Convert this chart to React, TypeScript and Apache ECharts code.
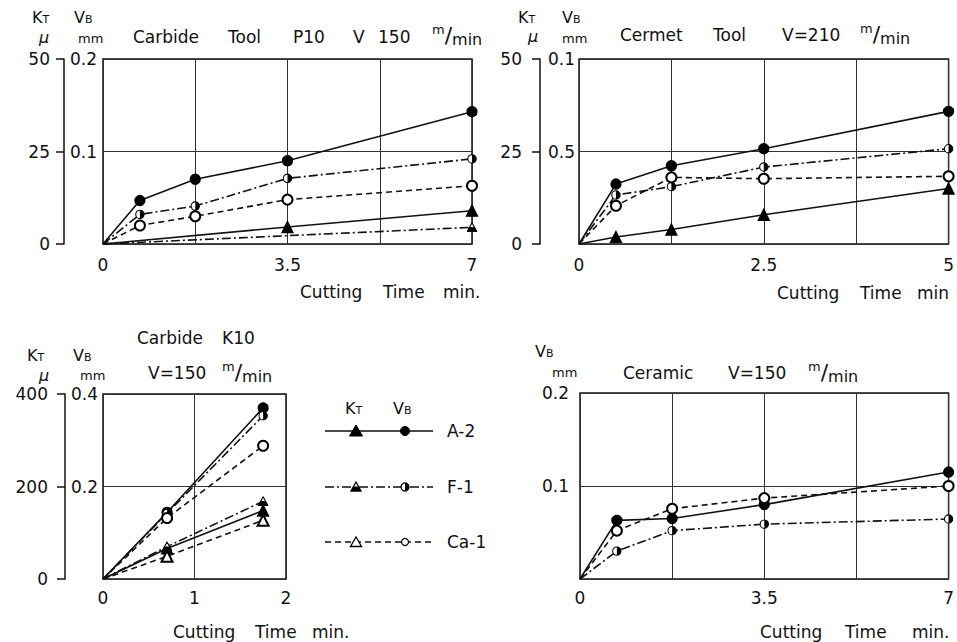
import React, { useEffect, useRef } from 'react';
import * as echarts from 'echarts';

const FONT = "'DejaVu Sans', sans-serif";
const INK = '#111';

// ---- Panel 1: Carbide Tool P10, V 150 m/min ----
const p1Time = [0, 0.7, 1.75, 3.5, 7];
const p1VbA2 = [0, 0.047, 0.07, 0.09, 0.143];
const p1VbF1 = [0, 0.032, 0.041, 0.071, 0.092];
const p1VbCa1 = [0, 0.02, 0.03, 0.048, 0.063];
const p1KtA2Time = [0, 3.5, 7];
const p1KtA2 = [0, 4.6, 9.0];
const p1KtF1Time = [0, 7];
const p1KtF1 = [0, 4.5];

// ---- Panel 2: Cermet Tool, V=210 m/min ----
const p2Time = [0, 0.5, 1.25, 2.5, 5];
const p2VbA2 = [0, 0.0324, 0.0423, 0.0515, 0.0717];
const p2VbF1 = [0, 0.0265, 0.031, 0.0416, 0.0515];
const p2VbCa1 = [0, 0.0207, 0.036, 0.0353, 0.0366];
const p2KtA2 = [0, 1.9, 3.9, 7.9, 15.0];

// ---- Panel 3: Carbide K10, V=150 m/min ----
const p3Time = [0, 0.7, 1.75];
const p3VbA2 = [0, 0.144, 0.37];
const p3VbF1 = [0, 0.142, 0.353];
const p3VbCa1 = [0, 0.132, 0.288];
const p3KtA2 = [0, 66, 148];
const p3KtF1 = [0, 70, 168];
const p3KtCa1 = [0, 49, 127];

// ---- Panel 4: Ceramic, V=150 m/min ----
const p4Time = [0, 0.7, 1.75, 3.5, 7];
const p4VbA2 = [0, 0.063, 0.065, 0.08, 0.115];
const p4VbF1 = [0, 0.03, 0.052, 0.059, 0.0645];
const p4VbCa1 = [0, 0.052, 0.0756, 0.087, 0.1];

// ---- Tick labels ----
const p1XTicks = [0, 3.5, 7];
const p2XTicks = [0, 2.5, 5];
const p3XTicks = [0, 1, 2];
const p4XTicks = [0, 3.5, 7];
const p1VbTickValues = [0.1, 0.2];
const p1VbTickLabels = ['0.1', '0.2'];
const p2VbTickValues = [0.05, 0.1];
const p2VbTickLabels = ['0.5', '0.1'];
const p3VbTickValues = [0.2, 0.4];
const p3VbTickLabels = ['0.2', '0.4'];
const p4VbTickValues = [0.1, 0.2];
const p4VbTickLabels = ['0.1', '0.2'];
const p1KtTickValues = [0, 25, 50];
const p1KtTickLabels = ['0', '25', '50'];
const p2KtTickValues = [0, 25, 50];
const p2KtTickLabels = ['0', '25', '50'];
const p3KtTickValues = [0, 200, 400];
const p3KtTickLabels = ['0', '200', '400'];

const samples = ['A-2', 'F-1', 'Ca-1'];

const svgUri = (s: string) => 'image://data:image/svg+xml;charset=utf-8,' + encodeURIComponent(s);
const halfCircleSym = svgUri(
  "<svg xmlns='http://www.w3.org/2000/svg' width='24' height='24' viewBox='0 0 24 24'><circle cx='12' cy='12' r='10' fill='#fff' stroke='#000' stroke-width='2.6'/><path d='M12 2 A10 10 0 0 1 12 22 Z' fill='#000'/></svg>"
);
const halfTriSym = svgUri(
  "<svg xmlns='http://www.w3.org/2000/svg' width='24' height='24' viewBox='0 0 24 24'><polygon points='12,2 22.5,21 1.5,21' fill='#fff' stroke='#000' stroke-width='2.4' stroke-linejoin='round'/><polygon points='6.75,11.5 17.25,11.5 22.5,21 1.5,21' fill='#000'/></svg>"
);

const LINE: Record<string, any> = {
  'A-2': 'solid',
  'F-1': [9, 3, 2, 3],
  'Ca-1': [6, 4],
};
const SYM: Record<string, { vb: string; kt: string }> = {
  'A-2': { vb: 'circle', kt: 'triangle' },
  'F-1': { vb: halfCircleSym, kt: halfTriSym },
  'Ca-1': { vb: 'emptyCircle', kt: 'emptyTriangle' },
};

const labelFrom = (vals: number[], labels: string[]) => (v: number) => {
  const i = vals.findIndex((t) => Math.abs(t - v) < 1e-9);
  return i >= 0 ? labels[i] : '';
};

const xAxisDef = (gridIndex: number, max: number, interval: number, ticks: number[], margin: number) => ({
  type: 'value',
  gridIndex,
  min: 0,
  max,
  interval,
  axisLine: { show: false },
  axisTick: { show: false },
  splitLine: { show: true, lineStyle: { color: '#333', width: 1 } },
  axisLabel: {
    margin,
    color: INK,
    fontSize: 17,
    fontFamily: FONT,
    showMinLabel: true,
    showMaxLabel: true,
    formatter: labelFrom(ticks, ticks.map(String)),
  },
});

const yVbDef = (gridIndex: number, max: number, interval: number, vals: number[], labels: string[], margin: number) => ({
  type: 'value',
  gridIndex,
  position: 'left',
  min: 0,
  max,
  interval,
  axisLine: { show: false },
  axisTick: { show: false },
  splitLine: { show: true, lineStyle: { color: '#333', width: 1 } },
  axisLabel: {
    margin,
    color: INK,
    fontSize: 17,
    fontFamily: FONT,
    showMinLabel: true,
    showMaxLabel: true,
    formatter: labelFrom(vals, labels),
  },
});

const yKtDef = (gridIndex: number, max: number, interval: number, vals: number[], labels: string[], offset: number, margin: number) => ({
  type: 'value',
  gridIndex,
  position: 'left',
  offset,
  min: 0,
  max,
  interval,
  axisLine: { show: true, lineStyle: { color: INK, width: 1.5 } },
  axisTick: { show: true, length: 8, lineStyle: { color: INK, width: 1.5 } },
  splitLine: { show: false },
  axisLabel: {
    margin,
    color: INK,
    fontSize: 17,
    fontFamily: FONT,
    showMinLabel: true,
    showMaxLabel: true,
    formatter: labelFrom(vals, labels),
  },
});

const mkSeries = (sample: string, kind: 'vb' | 'kt', time: number[], vals: number[], xi: number, yi: number) => ({
  type: 'line',
  name: sample + ' ' + (kind === 'vb' ? 'VB' : 'KT'),
  xAxisIndex: xi,
  yAxisIndex: yi,
  clip: false,
  data: time.map((t, i) => (i === 0 && t === 0 ? { value: [t, vals[i]], symbol: 'none' } : [t, vals[i]])),
  symbol: SYM[sample][kind],
  symbolSize: kind === 'vb' ? 10 : 11,
  showSymbol: true,
  lineStyle: { color: INK, width: 1.6, type: LINE[sample] },
  itemStyle: { color: '#000', borderColor: '#000', borderWidth: 1.3 },
  z: 3,
});

const txt = (text: string, x: number, y: number, size = 17, align = 'left', extra: any = {}) => ({
  type: 'text',
  x,
  y,
  silent: true,
  style: { text, fontSize: size, fontFamily: FONT, fill: INK, align, verticalAlign: 'middle', ...extra },
});

const subLabel = (big: string, small: string, x: number, y: number) => ({
  type: 'text',
  x,
  y,
  silent: true,
  style: {
    text: '{a|' + big + '}{b|' + small + '}',
    fontFamily: FONT,
    fill: INK,
    align: 'left',
    verticalAlign: 'middle',
    rich: {
      a: { fontSize: 16, fontFamily: FONT, fill: INK, color: INK, verticalAlign: 'bottom', lineHeight: 14 },
      b: { fontSize: 11, fontFamily: FONT, fill: INK, color: INK, verticalAlign: 'bottom', lineHeight: 14 },
    },
  },
});

const units = (x: number, y: number) => ({
  type: 'text',
  x,
  y,
  silent: true,
  style: {
    text: '{m|m}{s|/}{n|min}',
    fontFamily: FONT,
    fill: INK,
    align: 'left',
    verticalAlign: 'middle',
    rich: {
      m: { fontSize: 13, fontFamily: FONT, fill: INK, color: INK, verticalAlign: 'top', lineHeight: 24 },
      s: { fontSize: 22, fontFamily: FONT, fill: INK, color: INK, verticalAlign: 'middle', lineHeight: 24 },
      n: { fontSize: 16, fontFamily: FONT, fill: INK, color: INK, verticalAlign: 'bottom', lineHeight: 24 },
    },
  },
});

const mu = (x: number, y: number) => txt('μ', x, y, 16, 'center', { fontStyle: 'italic', lineHeight: 14 });

const legendRow = (i: number, y: number) => {
  const s = samples[i];
  const els: any[] = [];
  els.push({
    type: 'line',
    silent: true,
    shape: { x1: 325, y1: y, x2: 433, y2: y },
    style: { stroke: INK, lineWidth: 1.5, lineDash: LINE[s] === 'solid' ? null : LINE[s] },
  });
  const tx = 356;
  const cx = 405;
  if (i === 0) {
    els.push({ type: 'polygon', silent: true, shape: { points: [[tx, y - 6], [tx + 6.5, y + 5], [tx - 6.5, y + 5]] }, style: { fill: '#000', stroke: '#000', lineWidth: 1 } });
    els.push({ type: 'circle', silent: true, shape: { cx, cy: y, r: 4.5 }, style: { fill: '#000', stroke: '#000', lineWidth: 1 } });
  } else if (i === 1) {
    els.push({ type: 'polygon', silent: true, shape: { points: [[tx, y - 5], [tx + 5, y + 4], [tx - 5, y + 4]] }, style: { fill: '#fff', stroke: '#000', lineWidth: 1.3 } });
    els.push({ type: 'polygon', silent: true, shape: { points: [[tx - 2.5, y - 0.5], [tx + 2.5, y - 0.5], [tx + 5, y + 4], [tx - 5, y + 4]] }, style: { fill: '#000' } });
    els.push({ type: 'circle', silent: true, shape: { cx, cy: y, r: 4 }, style: { fill: '#fff', stroke: '#000', lineWidth: 1.3 } });
    els.push({ type: 'sector', silent: true, shape: { cx, cy: y, r: 4, r0: 0, startAngle: -Math.PI / 2, endAngle: Math.PI / 2 }, style: { fill: '#000' } });
  } else {
    els.push({ type: 'polygon', silent: true, shape: { points: [[tx, y - 5], [tx + 5.5, y + 4.5], [tx - 5.5, y + 4.5]] }, style: { fill: '#fff', stroke: '#000', lineWidth: 1.3 } });
    els.push({ type: 'circle', silent: true, shape: { cx, cy: y, r: 3.5 }, style: { fill: '#fff', stroke: '#000', lineWidth: 1.2 } });
  }
  els.push(txt(s, 447, y, 17));
  return els;
};

export default function App() {
  const ref = useRef<HTMLDivElement>(null);

  useEffect(() => {
    if (!ref.current) return;
    const chart = echarts.init(ref.current, null, { renderer: 'svg' });

    const gridStyle = { show: true, borderColor: INK, borderWidth: 1.5, backgroundColor: 'transparent', containLabel: false };

    const option: any = {
      animation: false,
      backgroundColor: '#fff',
      textStyle: { fontFamily: FONT },
      grid: [
        { ...gridStyle, left: 103, top: 59, width: 369, height: 185 },
        { ...gridStyle, left: 579, top: 59, width: 372, height: 185 },
        { ...gridStyle, left: 103, top: 394, width: 183, height: 185 },
        { ...gridStyle, left: 580, top: 393, width: 372, height: 186 },
      ],
      xAxis: [
        xAxisDef(0, 7, 1.75, p1XTicks, 12),
        xAxisDef(1, 5, 1.25, p2XTicks, 12),
        xAxisDef(2, 2, 1, p3XTicks, 10),
        xAxisDef(3, 7, 1.75, p4XTicks, 10),
      ],
      yAxis: [
        yVbDef(0, 0.2, 0.1, p1VbTickValues, p1VbTickLabels, 6),
        yKtDef(0, 50, 25, p1KtTickValues, p1KtTickLabels, 39, 14),
        yVbDef(1, 0.1, 0.05, p2VbTickValues, p2VbTickLabels, 4),
        yKtDef(1, 50, 25, p2KtTickValues, p2KtTickLabels, 39, 18),
        yVbDef(2, 0.4, 0.2, p3VbTickValues, p3VbTickLabels, 5),
        yKtDef(2, 400, 200, p3KtTickValues, p3KtTickLabels, 38, 17),
        yVbDef(3, 0.2, 0.1, p4VbTickValues, p4VbTickLabels, 11),
      ],
      series: [
        mkSeries('A-2', 'vb', p1Time, p1VbA2, 0, 0),
        mkSeries('F-1', 'vb', p1Time, p1VbF1, 0, 0),
        mkSeries('Ca-1', 'vb', p1Time, p1VbCa1, 0, 0),
        mkSeries('A-2', 'kt', p1KtA2Time, p1KtA2, 0, 1),
        mkSeries('F-1', 'kt', p1KtF1Time, p1KtF1, 0, 1),

        mkSeries('A-2', 'vb', p2Time, p2VbA2, 1, 2),
        mkSeries('F-1', 'vb', p2Time, p2VbF1, 1, 2),
        mkSeries('Ca-1', 'vb', p2Time, p2VbCa1, 1, 2),
        mkSeries('A-2', 'kt', p2Time, p2KtA2, 1, 3),

        mkSeries('A-2', 'vb', p3Time, p3VbA2, 2, 4),
        mkSeries('F-1', 'vb', p3Time, p3VbF1, 2, 4),
        mkSeries('Ca-1', 'vb', p3Time, p3VbCa1, 2, 4),
        mkSeries('A-2', 'kt', p3Time, p3KtA2, 2, 5),
        mkSeries('F-1', 'kt', p3Time, p3KtF1, 2, 5),
        mkSeries('Ca-1', 'kt', p3Time, p3KtCa1, 2, 5),

        mkSeries('A-2', 'vb', p4Time, p4VbA2, 3, 6),
        mkSeries('F-1', 'vb', p4Time, p4VbF1, 3, 6),
        mkSeries('Ca-1', 'vb', p4Time, p4VbCa1, 3, 6),
      ],
      graphic: [
        // Panel 1 header
        subLabel('K', 'T', 32, 18),
        subLabel('V', 'B', 74, 18),
        mu(44, 37),
        txt('mm', 78, 38.5, 13),
        txt('Carbide', 133, 37),
        txt('Tool', 228, 37),
        txt('P10', 293, 37),
        txt('V', 353, 37),
        txt('150', 378, 37),
        units(432, 35),
        txt('Cutting', 300, 292),
        txt('Time', 383, 292),
        txt('min.', 443, 292),

        // Panel 2 header
        subLabel('K', 'T', 518, 18),
        subLabel('V', 'B', 562, 18),
        mu(533, 36),
        txt('mm', 562, 38, 13),
        txt('Cermet', 620, 35),
        txt('Tool', 713, 35),
        txt('V=210', 782, 35),
        units(860, 34),
        txt('Cutting', 777, 293),
        txt('Time', 860, 293),
        txt('min', 917, 293),

        // Panel 3 header
        txt('Carbide', 137, 338),
        txt('K10', 222, 338),
        txt('V=150', 148, 373),
        units(222, 372),
        subLabel('K', 'T', 27, 356),
        subLabel('V', 'B', 73, 356),
        mu(44, 375),
        txt('mm', 80, 375, 13),
        txt('Cutting', 173, 632),
        txt('Time', 255, 632),
        txt('min.', 312, 632),

        // Panel 4 header
        subLabel('V', 'B', 535, 352),
        txt('mm', 552, 372, 13),
        txt('Ceramic', 623, 373),
        txt('V=150', 728, 373),
        units(808, 372),
        txt('Cutting', 760, 632),
        txt('Time', 845, 632),
        txt('min.', 912, 632),

        // Legend
        subLabel('K', 'T', 345, 409),
        subLabel('V', 'B', 393, 409),
        ...legendRow(0, 431),
        ...legendRow(1, 487),
        ...legendRow(2, 542),
      ],
    };

    chart.setOption(option);
    return () => chart.dispose();
  }, []);

  return (
    <div
      ref={ref}
      style={{ position: 'fixed', left: 0, top: 0, width: 957, height: 642, background: '#fff' }}
    />
  );
}
